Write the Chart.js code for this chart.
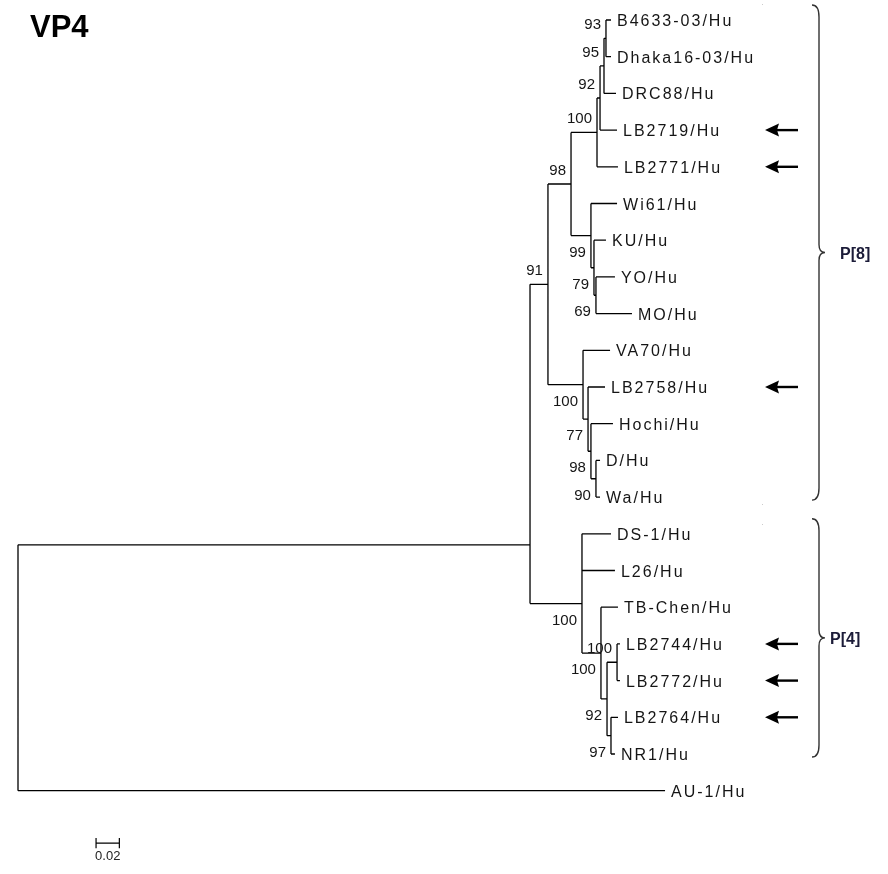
<!DOCTYPE html>
<html>
<head>
<meta charset="utf-8">
<script src="https://cdn.jsdelivr.net/npm/chart.js@4"></script>
<style>
html,body{margin:0;padding:0;background:#fff;}
#wrap{width:888px;height:874px;}
</style>
</head>
<body>
<div id="wrap"><canvas id="c" width="888" height="874"></canvas></div>
<script>
// ---- Data ----
const leafNames = ['B4633-03/Hu','Dhaka16-03/Hu','DRC88/Hu','LB2719/Hu','LB2771/Hu','Wi61/Hu','KU/Hu','YO/Hu','MO/Hu','VA70/Hu','LB2758/Hu','Hochi/Hu','D/Hu','Wa/Hu','DS-1/Hu','L26/Hu','TB-Chen/Hu','LB2744/Hu','LB2772/Hu','LB2764/Hu','NR1/Hu','AU-1/Hu'];
const leafDepth = [0.5090,0.5090,0.5133,0.5142,0.5150,0.5142,0.5047,0.5124,0.5270,0.5082,0.5039,0.5107,0.4996,0.4996,0.5090,0.5124,0.5150,0.5167,0.5167,0.5150,0.5124,0.5554];
const markedLeaves = ['LB2719/Hu','LB2771/Hu','LB2758/Hu','LB2744/Hu','LB2772/Hu','LB2764/Hu'];

const nodeNames = ['root','M','P8','A','N4','N3','N2','N1','C1','C2','C3','V1','V2','V3','V4','P4','Q2','Q3','Q4','Q5'];
const nodeDepth = [0,0.4395,0.4549,0.4747,0.4970,0.4996,0.5030,0.5047,0.4918,0.4944,0.4961,0.4850,0.4893,0.4918,0.4961,0.4841,0.5004,0.5056,0.5142,0.5090];
const nodeKids = [
  ['M','AU-1/Hu'], ['P8','P4'], ['A','V1'], ['N4','C1'], ['N3','LB2771/Hu'],
  ['N2','LB2719/Hu'], ['N1','DRC88/Hu'], ['B4633-03/Hu','Dhaka16-03/Hu'],
  ['Wi61/Hu','C2'], ['KU/Hu','C3'], ['YO/Hu','MO/Hu'],
  ['VA70/Hu','V2'], ['LB2758/Hu','V3'], ['Hochi/Hu','V4'], ['D/Hu','Wa/Hu'],
  ['DS-1/Hu','L26/Hu','Q2'], ['TB-Chen/Hu','Q3'], ['Q4','Q5'],
  ['LB2744/Hu','LB2772/Hu'], ['LB2764/Hu','NR1/Hu']
];
const nodeSupport = [null,null,91,98,100,92,95,93,99,79,69,100,77,98,90,100,100,92,100,97];
const supportSide = ['','','above','above','above','above','above','above','below','below','below','below','below','below','below','below','below','below','above','below'];
const nodeRowOverride = {M:14.3, P4:15.9};

const groupNames = ['P[8]','P[4]'];
const groupFirst = ['B4633-03/Hu','DS-1/Hu'];
const groupLast = ['Wa/Hu','NR1/Hu'];
const scaleBarValue = 0.02;
const titleText = 'VP4';

// ---- Build tree geometry ----
const pos = {};
leafNames.forEach((n,i)=>{ pos[n] = {x:leafDepth[i], y:i}; });
function rowOf(name){
  if (pos[name]) return pos[name].y;
  const i = nodeNames.indexOf(name);
  const kids = nodeKids[i];
  const ys = kids.map(rowOf);
  const y = (name in nodeRowOverride) ? nodeRowOverride[name] : (ys[0] + ys[ys.length-1]) / 2;
  pos[name] = {x:nodeDepth[i], y:y};
  return y;
}
rowOf('root');

const branchPts = [];
nodeNames.forEach((n,i)=>{
  const p = pos[n];
  const kids = nodeKids[i].map(k=>pos[k]);
  const ys = kids.map(k=>k.y).concat([p.y]);
  branchPts.push({x:p.x, y:Math.min(...ys)},{x:p.x, y:Math.max(...ys)},{x:p.x, y:null});
  kids.forEach(k=>{
    branchPts.push({x:p.x, y:k.y},{x:k.x, y:k.y},{x:k.x, y:null});
  });
});

// scale bar geometry (x from data value, position fixed)
const sbX0 = 0.067, sbRow = 22.43, sbTick = 0.14;
const scaleBarPts = [
  {x:sbX0, y:sbRow-sbTick},{x:sbX0, y:sbRow+sbTick},{x:sbX0,y:null},
  {x:sbX0, y:sbRow},{x:sbX0+scaleBarValue, y:sbRow},{x:sbX0,y:null},
  {x:sbX0+scaleBarValue, y:sbRow-sbTick},{x:sbX0+scaleBarValue, y:sbRow+sbTick}
];

const FONT = '"Liberation Sans", Arial, sans-serif';

const treePlugin = {
  id:'treeText',
  afterDatasetsDraw(chart){
    const ctx = chart.ctx, xs = chart.scales.x, ys = chart.scales.y;
    const X = v=>xs.getPixelForValue(v), Y = v=>ys.getPixelForValue(v);
    ctx.save();
    // title
    ctx.fillStyle = '#000';
    ctx.font = 'bold 31px ' + FONT;
    ctx.textAlign = 'left'; ctx.textBaseline = 'alphabetic';
    ctx.fillText(titleText, 30, 37);

    // leaf labels
    ctx.font = '16px ' + FONT;
    ctx.fillStyle = '#151515';
    try { ctx.letterSpacing = '2px'; } catch(e){}
    leafNames.forEach((n,i)=>{
      ctx.fillText(n, X(leafDepth[i]) + 6, Y(i) + 6);
    });
    try { ctx.letterSpacing = '0px'; } catch(e){}

    // support values
    ctx.font = '15px ' + FONT;
    ctx.textAlign = 'right';
    nodeNames.forEach((n,i)=>{
      if (nodeSupport[i] == null) return;
      const p = pos[n];
      const px = X(p.x) - 5, py = Y(p.y);
      ctx.fillText(String(nodeSupport[i]), px, supportSide[i]==='above' ? py - 9 : py + 21);
    });

    // arrows
    ctx.fillStyle = '#000'; ctx.strokeStyle = '#000';
    markedLeaves.forEach(n=>{
      const y = Y(pos[n].y);
      ctx.lineWidth = 2.4;
      ctx.beginPath(); ctx.moveTo(776, y); ctx.lineTo(798, y); ctx.stroke();
      ctx.beginPath(); ctx.moveTo(765, y); ctx.lineTo(779, y-6.5); ctx.lineTo(777, y); ctx.lineTo(779, y+6.5); ctx.closePath(); ctx.fill();
    });

    // braces + group labels
    groupNames.forEach((g,i)=>{
      const top = Y(pos[groupFirst[i]].y) - 15;
      const bot = Y(pos[groupLast[i]].y) + 3;
      const mid = (top+bot)/2;
      ctx.strokeStyle = '#333'; ctx.lineWidth = 1.4;
      ctx.beginPath();
      ctx.moveTo(812, top);
      ctx.quadraticCurveTo(819, top, 819, top+12);
      ctx.lineTo(819, mid-8);
      ctx.quadraticCurveTo(819, mid, 825, mid);
      ctx.quadraticCurveTo(819, mid, 819, mid+8);
      ctx.lineTo(819, bot-12);
      ctx.quadraticCurveTo(819, bot, 812, bot);
      ctx.stroke();
      ctx.fillStyle = '#1b1b38';
      ctx.font = 'bold 16px ' + FONT;
      ctx.textAlign = 'left';
      ctx.fillText(g, i===0 ? 840 : 830, mid + 6);
    });

    // scale label
    ctx.fillStyle = '#222';
    ctx.font = '13px ' + FONT;
    ctx.textAlign = 'center';
    ctx.fillText(String(scaleBarValue).replace(/^0\./,'0.'), X(sbX0 + scaleBarValue/2), Y(sbRow) + 17);

    // faint dots
    ctx.fillStyle = '#ccc';
    [[762,4],[762,504],[762,524]].forEach(d=>ctx.fillRect(d[0],d[1],1,1));
    ctx.restore();
  }
};

new Chart(document.getElementById('c'), {
  type:'scatter',
  data:{ datasets:[
    {data:branchPts, showLine:true, spanGaps:false, borderColor:'#000', borderWidth:1.3, pointRadius:0, pointHoverRadius:0},
    {data:scaleBarPts, showLine:true, spanGaps:false, borderColor:'#000', borderWidth:1.2, pointRadius:0, pointHoverRadius:0}
  ]},
  options:{
    responsive:false, animation:false, devicePixelRatio:1,
    layout:{padding:0},
    plugins:{legend:{display:false}, tooltip:{enabled:false}, title:{display:false}},
    scales:{
      x:{type:'linear', display:false, min:-18/1165, max:(888-18)/1165},
      y:{type:'linear', display:false, reverse:true, min:-20/36.7, max:(874-20)/36.7}
    }
  },
  plugins:[treePlugin]
});
</script>
</body>
</html>
